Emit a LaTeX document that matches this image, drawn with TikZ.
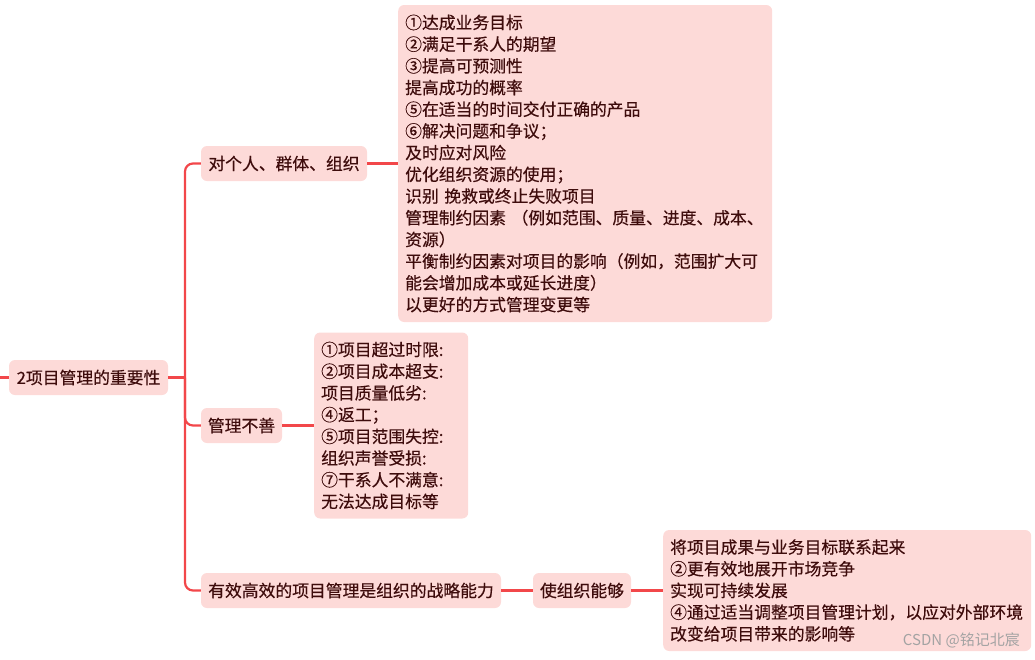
\documentclass[tikz,border=0pt]{standalone}
\usepackage{fontspec}
\setmainfont{Noto Sans CJK SC}[FakeBold=0.4]
\newfontfamily\markfont{Noto Sans CJK SC}
\definecolor{boxfill}{HTML}{FDDAD8}
\definecolor{boxtext}{HTML}{3E0C0C}
\definecolor{linkred}{HTML}{F2474A}
\begin{document}
\begin{tikzpicture}[x=1pt, y=-1pt,
    every node/.style={font=\fontsize{16.8pt}{21.7pt}\selectfont, text=boxtext},
    topic/.style={fill=boxfill, rounded corners=6pt, minimum height=35pt, inner xsep=6pt, inner ysep=2pt},
    leaf/.style={fill=boxfill, rounded corners=6pt, inner xsep=7pt, inner ysep=2pt, align=left, anchor=west},
    link/.style={draw=linkred, line width=2.2pt}]
        \useasboundingbox (0, 0) rectangle (1035, 659);
        % root and first level
        \coordinate (in) at (0, 377.5);
        \node[topic, minimum width=159pt] (root) at (88.5, 377.5) {2项目管理的重要性};
        \coordinate (trunk) at (185, 377.5);
        \node[topic, minimum width=166pt] (c1) at (284, 163.5) {对个人、群体、组织};
        \node[topic, minimum width=81pt] (c2) at (241.5, 425.5) {管理不善};
        \node[topic, minimum width=300pt] (c3) at (351, 590.5) {有效高效的项目管理是组织的战略能力};
        \node[topic, minimum width=98pt] (c4) at (582, 590.5) {使组织能够};
        % leaves
        \node[leaf, text width=360pt, minimum height=317pt] (l1) at (398, 163.5) {①达成业务目标\\②满足干系人的期望\\③提高可预测性\\提高成功的概率\\⑤在适当的时间交付正确的产品\\⑥解决问题和争议；\\及时应对风险\\优化组织资源的使用；\\识别 挽救或终止失败项目\\管理制约因素 （例如范围、质量、进度、成本、\\资源）\\平衡制约因素对项目的影响（例如，范围扩大可\\能会增加成本或延长进度）\\以更好的方式管理变更等};
        \node[leaf, text width=140pt, minimum height=186pt] (l2) at (314, 425.5) {①项目超过时限:\\②项目成本超支:\\项目质量低劣:\\④返工；\\⑤项目范围失控:\\组织声誉受损:\\⑦干系人不满意:\\无法达成目标等};
        \node[leaf, text width=354pt, minimum height=121pt] (l3) at (663, 590.5) {将项目成果与业务目标联系起来\\②更有效地展开市场竞争\\实现可持续发展\\④通过适当调整项目管理计划，以应对外部环境\\改变给项目带来的影响等};
        \node[font=\markfont\fontsize{15pt}{18pt}\selectfont, text=black!36, anchor=east, inner sep=0pt] (mark) at (1020, 640) {CSDN @铭记北宸};
        % connectors
        \draw[link] (in) -- (root.west);
        \draw[link] (root.east) -- (trunk);
        \draw[link, rounded corners=8pt] (c1.west) -| (trunk) |- (c3.west);
        \draw[link, rounded corners=8pt] (trunk) |- (c2.west);
        \draw[link] (c1.east) -- (l1.west);
        \draw[link] (c2.east) -- (l2.west);
        \draw[link] (c3.east) -- (c4.west);
        \draw[link] (c4.east) -- (l3.west);
    \end{tikzpicture}
\end{document}
